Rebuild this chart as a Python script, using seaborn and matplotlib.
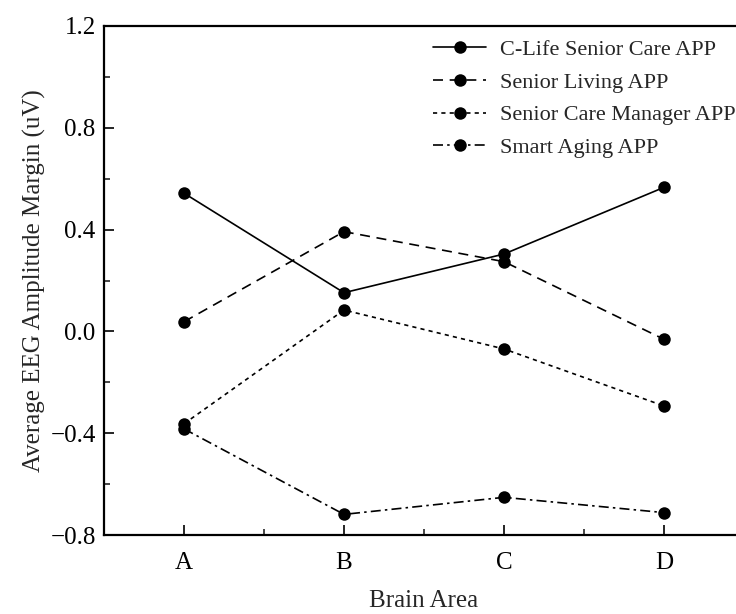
import matplotlib
matplotlib.use("Agg")
import matplotlib.pyplot as plt
from matplotlib.ticker import MultipleLocator, AutoMinorLocator
import pandas as pd
import seaborn as sns

areas = ["A", "B", "C", "D"]
apps = ["C-Life Senior Care APP", "Senior Living APP",
        "Senior Care Manager APP", "Smart Aging APP"]
c_life = [0.543, 0.152, 0.304, 0.566]
senior_living = [0.038, 0.392, 0.274, -0.031]
care_manager = [-0.363, 0.084, -0.069, -0.293]
smart_aging = [-0.383, -0.719, -0.652, -0.712]
y_ticks = [-0.8, -0.4, 0.0, 0.4, 0.8, 1.2]

series = [c_life, senior_living, care_manager, smart_aging]
df = pd.DataFrame({
    "area": [a for _ in apps for a in areas],
    "value": [v for s in series for v in s],
    "app": [name for name in apps for _ in areas],
})

sns.set_theme(style="ticks")
plt.rcParams["font.family"] = ["Liberation Serif", "DejaVu Serif"]

fig = plt.figure(figsize=(7.36, 6.14), dpi=100)
ax = fig.add_axes([104 / 736, 79 / 614, 640 / 736, 509 / 614])

dash_map = {
    apps[0]: "",
    apps[1]: (6, 4),
    apps[2]: (2.5, 2.5),
    apps[3]: (6, 2.5, 1.5, 2.5),
}
sns.lineplot(data=df, x="area", y="value", style="app", style_order=apps,
             dashes=dash_map, markers={a: "o" for a in apps},
             color="black", linewidth=1.2, markersize=9, markeredgewidth=0,
             ax=ax, legend=True)

ax.set_xlim(-0.5, 3.5)
ax.set_ylim(-0.8, 1.2)
ax.set_yticks(y_ticks)
ax.set_yticklabels([f"{t:.1f}".replace("-", "\u2212") for t in y_ticks])
ax.yaxis.set_minor_locator(AutoMinorLocator(2))
ax.xaxis.set_minor_locator(MultipleLocator(0.5))
ax.tick_params(axis="both", which="major", direction="in", length=7,
               width=1.2, labelsize=18, colors="black")
ax.tick_params(axis="x", which="major", pad=12)
ax.tick_params(axis="y", which="major", pad=6)
ax.tick_params(axis="both", which="minor", direction="in", length=4,
               width=1.2)
ax.tick_params(top=False, right=False, which="both")

for side in ["left", "bottom", "top"]:
    ax.spines[side].set_linewidth(1.6)
    ax.spines[side].set_color("black")
ax.spines["right"].set_visible(False)

ax.set_xlabel("Brain Area", fontsize=18, labelpad=12)
ax.set_ylabel("Average EEG Amplitude Margin (uV)", fontsize=18, labelpad=3)

leg = ax.legend(loc="upper left", bbox_to_anchor=(0.483, 1.013), frameon=False,
                fontsize=16, handlelength=2.4, handletextpad=0.6,
                labelspacing=0.55)

fig.savefig("out.png", dpi=100)
